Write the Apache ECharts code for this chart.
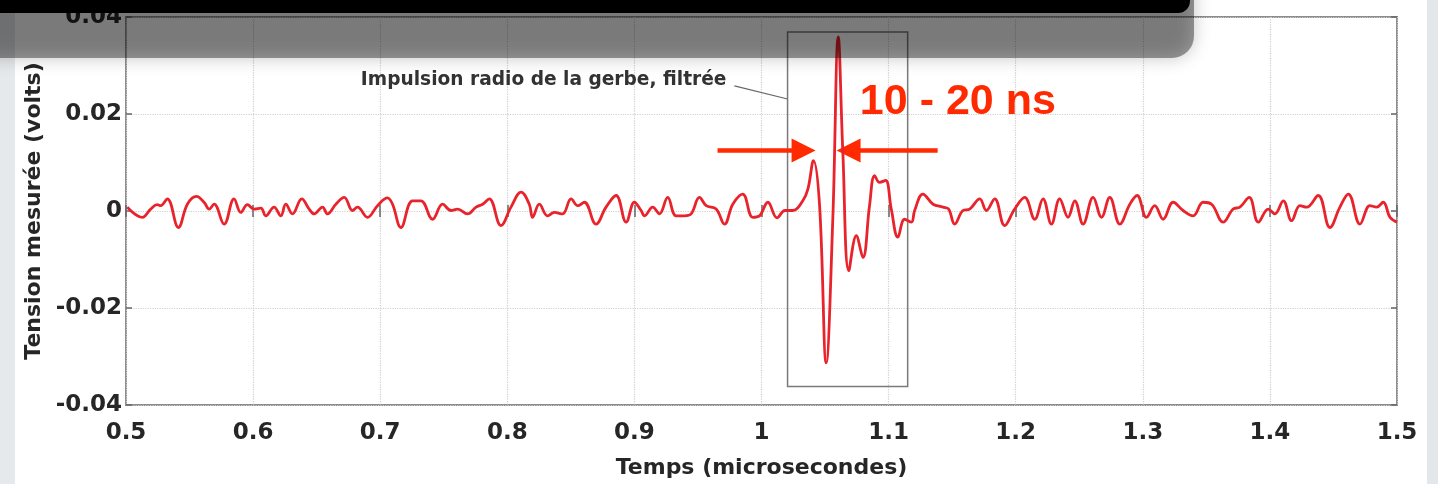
<!DOCTYPE html>
<html><head><meta charset="utf-8">
<script src="https://cdn.jsdelivr.net/npm/echarts/dist/echarts.min.js"></script>
<style>html,body{margin:0;padding:0;background:#fff}#c{width:1438px;height:484px}</style>
</head><body><div id="c"></div>
<script>
const timeUs = [
0.5010,0.5128,0.5194,0.5246,0.5273,0.5325,0.5412,0.5483,0.5554,0.5614,0.5654,0.5693,0.5772,0.5850,0.5903,0.5955,0.6008,0.6061,0.6100,0.6165,
0.6218,0.6257,0.6309,0.6383,0.6441,0.6480,0.6546,0.6585,0.6651,0.6717,0.6782,0.6821,0.6900,0.6979,0.7057,0.7097,0.7163,0.7254,0.7320,0.7412,
0.7491,0.7557,0.7609,0.7687,0.7754,0.7806,0.7858,0.7950,0.8029,0.8108,0.8173,0.8199,0.8252,0.8317,0.8370,0.8435,0.8502,0.8554,0.8606,0.8698,
0.8777,0.8856,0.8935,0.9000,0.9053,0.9079,0.9144,0.9197,0.9262,0.9328,0.9394,0.9446,0.9512,0.9565,0.9643,0.9709,0.9774,0.9852,0.9931,0.9984,
1.0050,1.0122,1.0185,1.0246,1.0325,1.0365,1.0409,1.0457,1.0509,1.0561,1.0604,1.0640,1.0687,1.0746,1.0798,1.0850,1.0890,1.0929,1.0976,1.1021,
1.1073,1.1126,1.1179,1.1205,1.1270,1.1350,1.1428,1.1472,1.1520,1.1585,1.1638,1.1717,1.1769,1.1835,1.1913,1.1992,1.2071,1.2150,1.2215,1.2281,
1.2346,1.2412,1.2465,1.2530,1.2609,1.2675,1.2740,1.2819,1.2898,1.2955,1.3029,1.3094,1.3160,1.3239,1.3317,1.3396,1.3475,1.3541,1.3632,1.3711,
1.3764,1.3837,1.3909,1.3987,1.4039,1.4105,1.4171,1.4236,1.4289,1.4380,1.4472,1.4551,1.4617,1.4709,1.4787,1.4840,1.4892,1.4945,1.5000
];
const voltage = [
0.0008,-0.0013,0.0004,0.0013,0.0011,0.0025,-0.0034,0.0014,0.0030,0.0018,0.0004,0.0014,-0.0027,0.0025,-0.0003,0.0013,0.0004,0.0006,-0.0010,0.0008,
-0.0010,0.0014,-0.0006,0.0025,0.0004,-0.0006,0.0008,-0.0006,0.0014,0.0028,0.0001,0.0008,-0.0013,0.0011,0.0027,0.0014,-0.0034,0.0021,0.0021,-0.0017,
0.0014,0.0001,0.0004,-0.0006,0.0008,0.0014,0.0025,-0.0030,0.0008,0.0039,0.0014,-0.0013,0.0014,-0.0010,-0.0003,-0.0006,0.0025,0.0011,0.0018,-0.0027,
0.0008,0.0032,-0.0023,0.0018,0.0001,-0.0010,0.0008,-0.0006,0.0028,-0.0010,-0.0010,-0.0006,0.0028,0.0011,0.0004,-0.0027,0.0014,0.0035,-0.0013,-0.0010,
0.0018,-0.0014,0.0001,0.0001,0.0021,0.0045,0.0104,0.0011,-0.0313,-0.0017,0.0359,0.0121,-0.0123,-0.0051,-0.0096,0.0011,0.0073,0.0059,0.0063,0.0004,
-0.0054,-0.0017,-0.0023,0.0001,0.0035,0.0014,0.0008,0.0004,-0.0027,0.0001,0.0004,0.0025,0.0001,0.0025,-0.0030,0.0004,0.0028,-0.0017,0.0025,-0.0027,
0.0025,-0.0013,0.0021,-0.0027,0.0028,-0.0013,0.0028,-0.0027,0.0014,0.0032,-0.0013,0.0011,-0.0017,0.0018,0.0001,-0.0010,0.0018,0.0014,-0.0023,0.0004,
0.0008,0.0028,-0.0023,0.0004,-0.0006,0.0021,-0.0020,0.0011,0.0008,0.0032,-0.0034,0.0008,0.0035,-0.0027,0.0011,0.0008,0.0018,-0.0013,-0.0023
];
// Axis ranges / ticks
const xRange = [0.5, 1.5], xStep = 0.1;
const yRange = [-0.04, 0.04], yStep = 0.02;
// Annotation positions (data units)
const boxCorners = [[1.0205, 0.0369], [1.115, -0.0362]];
const leaderLine = [[0.9787, 0.0258], [1.0205, 0.0231]];
const noteText = 'Impulsion radio de la gerbe, filtrée';
const noteAnchor = [0.9724, 0.0269];
const widthText = '10 - 20 ns';
const widthTextAt = [1.1545, 0.0225];
const arrowLeft = [[0.9654, 0.0125], [1.0331, 0.0125]];
const arrowRight = [[1.1386, 0.0125], [1.0685, 0.0125]];

const RED = '#e8232b', ANNO = '#ff2a00';
const FONT = '"DejaVu Sans", sans-serif';
const TXT = '#262626';
const chart = echarts.init(document.getElementById('c'), null, {renderer: 'canvas'});

const hiddenAxisCommon = {
  axisLabel: {show: false}, axisLine: {show: false}, splitLine: {show: false},
  axisTick: {show: true, inside: true, length: 6, lineStyle: {color: '#666', width: 1.5}}
};

const option = {
  animation: false,
  backgroundColor: '#ffffff',
  grid: {left: 126, right: 41, top: 17, bottom: 79, show: true, borderColor: '#8c8c8c', borderWidth: 2, backgroundColor: 'transparent'},
  xAxis: [{
    type: 'value', min: xRange[0], max: xRange[1], interval: xStep, position: 'bottom',
    name: 'Temps (microsecondes)', nameLocation: 'middle', nameGap: 52,
    nameTextStyle: {fontFamily: FONT, fontSize: 22, fontWeight: 'bold', color: TXT},
    axisLine: {show: false},
    axisTick: {show: true, inside: true, length: 6, lineStyle: {color: '#666', width: 1.5}},
    axisLabel: {fontFamily: FONT, fontSize: 23, fontWeight: 'bold', color: TXT, margin: 17, showMinLabel: true, showMaxLabel: true,
      formatter: v => String(Math.round(v * 10) / 10)},
    splitLine: {show: true, lineStyle: {color: '#cfcfcf', type: 'dotted', width: 1.2}}
  }, Object.assign({type: 'value', min: xRange[0], max: xRange[1], interval: xStep, position: 'top'}, hiddenAxisCommon)],
  yAxis: [{
    type: 'value', min: yRange[0], max: yRange[1], interval: yStep, position: 'left',
    name: 'Tension mesurée (volts)', nameLocation: 'middle', nameGap: 77,
    nameTextStyle: {fontFamily: FONT, fontSize: 22, fontWeight: 'bold', color: TXT},
    axisLine: {show: false},
    axisTick: {show: true, inside: true, length: 6, lineStyle: {color: '#666', width: 1.5}},
    axisLabel: {fontFamily: FONT, fontSize: 23, fontWeight: 'bold', color: TXT, margin: 4, showMinLabel: true, showMaxLabel: true,
      formatter: v => (Math.abs(v) < 1e-9 ? '0' : v.toFixed(2))},
    splitLine: {show: true, lineStyle: {color: '#cfcfcf', type: 'dotted', width: 1.2}}
  }, Object.assign({type: 'value', min: yRange[0], max: yRange[1], interval: yStep, position: 'right'}, hiddenAxisCommon)],
  series: [{
    type: 'line', xAxisIndex: 0, yAxisIndex: 0,
    data: timeUs.map((t, i) => [t, voltage[i]]),
    showSymbol: false, smooth: 0.4,
    lineStyle: {color: RED, width: 2.8},
    z: 5,
    markArea: {silent: true, label: {show: false},
      itemStyle: {color: 'rgba(0,0,0,0)', borderColor: '#7a7a7a', borderWidth: 1.5},
      data: [[{coord: boxCorners[0]}, {coord: boxCorners[1]}]]},
    markLine: {silent: true, animation: false, label: {show: false},
      data: [
        [{coord: leaderLine[0], symbol: 'none', lineStyle: {color: '#666', width: 1.2, type: 'solid'}},
         {coord: leaderLine[1], symbol: 'none'}],
        [{coord: arrowLeft[0], symbol: 'none', lineStyle: {color: ANNO, width: 4.5, type: 'solid'}},
         {coord: arrowLeft[1], symbol: 'triangle', symbolSize: [24, 24], itemStyle: {color: ANNO}}],
        [{coord: arrowRight[0], symbol: 'none', lineStyle: {color: ANNO, width: 4.5, type: 'solid'}},
         {coord: arrowRight[1], symbol: 'triangle', symbolSize: [24, 24], itemStyle: {color: ANNO}}]
      ]}
  }]
};
chart.setOption(option);

const nA = chart.convertToPixel({xAxisIndex: 0, yAxisIndex: 0}, noteAnchor);
const wA = chart.convertToPixel({xAxisIndex: 0, yAxisIndex: 0}, widthTextAt);
chart.setOption({graphic: [
  {type: 'rect', z: -10, silent: true, shape: {x: 0, y: 0, width: 15, height: 484}, style: {fill: '#e6e9ec'}},
  {type: 'rect', z: -10, silent: true, shape: {x: 1427, y: 0, width: 11, height: 484}, style: {fill: '#e3e6ea'}},
  {type: 'text', z: 50, silent: true, x: nA[0], y: nA[1],
    style: {text: noteText, fill: '#333', font: 'bold 18.6px ' + FONT, textAlign: 'right', textVerticalAlign: 'middle'}},
  {type: 'text', z: 50, silent: true, x: wA[0], y: wA[1],
    style: {text: widthText, fill: ANNO, font: 'bold 43px "Liberation Sans", sans-serif', textAlign: 'center', textVerticalAlign: 'middle'}},
  {type: 'rect', z: 100, silent: true, shape: {x: -40, y: -40, width: 1234, height: 98, r: 22},
    style: {fill: 'rgba(0,0,0,0.38)', shadowBlur: 18, shadowColor: 'rgba(0,0,0,0.6)'}},
  {type: 'rect', z: 101, silent: true, shape: {x: -20, y: -30, width: 1210, height: 43, r: 12},
    style: {fill: '#000'}}
]});
</script>
</body></html>
